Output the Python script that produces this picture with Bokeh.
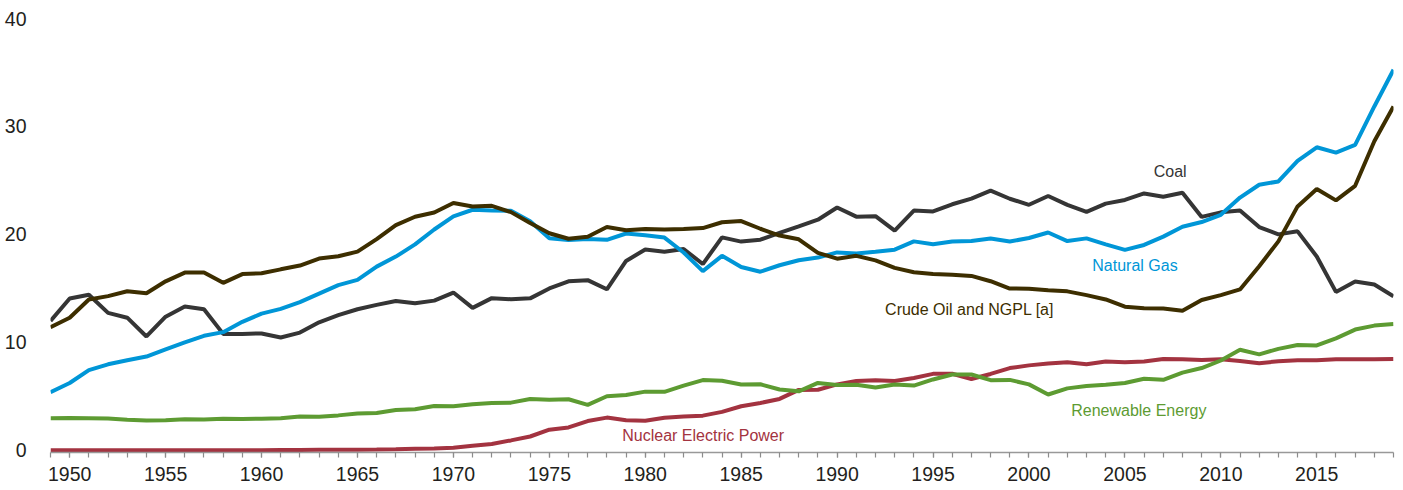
from bokeh.plotting import figure
from bokeh.models import Range1d, SingleIntervalTicker, FixedTicker, Label
from bokeh.embed import file_html
from bokeh.resources import INLINE

years = list(range(1949, 2020))

coal = [11.97, 14.06, 14.41, 12.73, 12.28, 10.54, 12.37, 13.31, 13.06, 10.78,
        10.78, 10.82, 10.45, 10.90, 11.85, 12.52, 13.06, 13.47, 13.83, 13.61,
        13.86, 14.61, 13.19, 14.09, 13.99, 14.07, 14.99, 15.65, 15.76, 14.91,
        17.54, 18.60, 18.38, 18.64, 17.25, 19.72, 19.33, 19.51, 20.14, 20.74,
        21.36, 22.49, 21.64, 21.69, 20.34, 22.20, 22.13, 22.79, 23.31, 24.05,
        23.30, 22.74, 23.55, 22.73, 22.09, 22.85, 23.19, 23.79, 23.49, 23.85,
        21.62, 22.04, 22.22, 20.68, 20.00, 20.28, 17.95, 14.67, 15.63, 15.36,
        14.26]

natural_gas = [5.38, 6.23, 7.42, 7.96, 8.34, 8.68, 9.35, 10.00, 10.60, 10.94,
               11.90, 12.66, 13.10, 13.72, 14.51, 15.30, 15.78, 17.01, 17.94, 19.07,
               20.45, 21.67, 22.28, 22.21, 22.19, 21.21, 19.64, 19.48, 19.57, 19.49,
               20.08, 19.91, 19.70, 18.32, 16.59, 18.01, 16.98, 16.54, 17.14, 17.60,
               17.85, 18.33, 18.23, 18.38, 18.58, 19.35, 19.08, 19.34, 19.39, 19.61,
               19.34, 19.66, 20.17, 19.38, 19.63, 19.07, 18.56, 19.02, 19.79, 20.70,
               21.14, 21.81, 23.41, 24.60, 24.90, 26.80, 28.07, 27.58, 28.29, 31.85,
               35.25]

crude_oil_ngpl = [11.40, 12.27, 13.96, 14.28, 14.73, 14.55, 15.65, 16.46, 16.47, 15.51,
                  16.32, 16.40, 16.76, 17.11, 17.76, 17.97, 18.40, 19.56, 20.85, 21.63,
                  22.02, 22.91, 22.58, 22.64, 22.06, 21.05, 20.10, 19.59, 19.78, 20.68,
                  20.39, 20.50, 20.45, 20.50, 20.58, 21.12, 21.23, 20.52, 19.89, 19.54,
                  18.28, 17.75, 18.01, 17.59, 16.90, 16.49, 16.33, 16.25, 16.15, 15.66,
                  14.98, 14.97, 14.83, 14.72, 14.37, 13.97, 13.30, 13.16, 13.13, 12.93,
                  13.92, 14.37, 14.90, 17.05, 19.35, 22.59, 24.20, 23.15, 24.50, 28.62,
                  31.85]

nuclear = [0.0, 0.0, 0.0, 0.0, 0.0, 0.0, 0.0, 0.0, 0.0, 0.002,
           0.002, 0.006, 0.02, 0.026, 0.038, 0.04, 0.043, 0.064, 0.088, 0.142,
           0.154, 0.239, 0.413, 0.584, 0.910, 1.272, 1.900, 2.111, 2.702, 3.024,
           2.776, 2.739, 3.008, 3.131, 3.203, 3.553, 4.076, 4.380, 4.754, 5.587,
           5.602, 6.104, 6.422, 6.479, 6.410, 6.694, 7.075, 7.087, 6.597, 7.068,
           7.610, 7.862, 8.029, 8.145, 7.959, 8.222, 8.161, 8.215, 8.459, 8.426,
           8.355, 8.434, 8.269, 8.062, 8.244, 8.338, 8.337, 8.427, 8.419, 8.438,
           8.452]

renewable = [2.974, 2.978, 2.958, 2.940, 2.831, 2.754, 2.784, 2.860, 2.854, 2.928,
             2.896, 2.928, 2.962, 3.115, 3.098, 3.229, 3.397, 3.444, 3.724, 3.795,
             4.103, 4.070, 4.262, 4.386, 4.410, 4.742, 4.687, 4.727, 4.209, 5.005,
             5.124, 5.428, 5.414, 5.980, 6.496, 6.438, 6.084, 6.111, 5.622, 5.457,
             6.235, 6.041, 6.069, 5.821, 6.083, 5.988, 6.558, 7.014, 7.016, 6.494,
             6.517, 6.102, 5.162, 5.731, 5.944, 6.064, 6.227, 6.617, 6.520, 7.186,
             7.617, 8.315, 9.308, 8.884, 9.394, 9.746, 9.705, 10.367, 11.180, 11.547,
             11.689]

y_ticks = [0, 10, 20, 30, 40]

series = [
    ("Coal", coal, "#353535"),
    ("Natural Gas", natural_gas, "#0096D7"),
    ("Crude Oil and NGPL [a]", crude_oil_ngpl, "#3D2E00"),
    ("Nuclear Electric Power", nuclear, "#A33340"),
    ("Renewable Energy", renewable, "#5D9B32"),
]

FONT = "Liberation Sans"
TICK_COLOR = "#231F20"

p = figure(width=1401, height=483, output_backend="svg", toolbar_location=None,
           x_range=Range1d(1949, 2019), y_range=Range1d(-0.21, 40),
           min_border_left=50, min_border_right=8, min_border_top=18, min_border_bottom=0)
p.outline_line_color = None
p.xgrid.visible = False
p.ygrid.visible = False
p.background_fill_color = "white"
p.border_fill_color = "white"

for name, vals, color in series:
    p.line(years, vals, line_color=color, line_width=4)

# x axis
xa = p.xaxis[0]
xa.ticker = SingleIntervalTicker(interval=5, num_minor_ticks=5)
xa.axis_line_color = "#999999"
xa.axis_line_width = 1.5
xa.major_tick_line_color = "#8c8c8c"
xa.minor_tick_line_color = "#8c8c8c"
xa.major_tick_line_width = 1.2
xa.minor_tick_line_width = 1.2
xa.major_tick_in = 0
xa.major_tick_out = 5
xa.minor_tick_in = 0
xa.minor_tick_out = 5
xa.major_label_standoff = 9
xa.major_label_text_font = FONT
xa.major_label_text_font_size = "19.5px"
xa.major_label_text_color = TICK_COLOR

# y axis
ya = p.yaxis[0]
ya.ticker = FixedTicker(ticks=y_ticks)
ya.axis_line_color = None
ya.major_tick_line_color = None
ya.minor_tick_line_color = None
ya.major_label_standoff = 18
ya.major_label_text_font = FONT
ya.major_label_text_font_size = "19.5px"
ya.major_label_text_color = TICK_COLOR

labels = [
    ("Coal", 2006.5, 25.8, "#353535"),
    ("Natural Gas", 2003.3, 17.1, "#0096D7"),
    ("Crude Oil and NGPL [a]", 1992.5, 13.0, "#3D2E00"),
    ("Nuclear Electric Power", 1978.8, 1.36, "#A33340"),
    ("Renewable Energy", 2002.2, 3.68, "#5D9B32"),
]
for txt, lx, ly, col in labels:
    p.add_layout(Label(x=lx, y=ly, text=txt, text_color=col, text_font=FONT,
                       text_font_size="16px", text_baseline="middle", text_align="left"))

open("out.html", "w").write(file_html(p, INLINE))
